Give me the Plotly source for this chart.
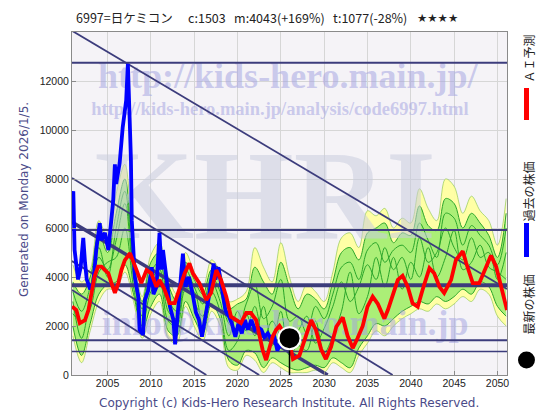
import plotly.graph_objects as go

# --- data -----------------------------------------------------------------
fan_years = list(range(2001, 2052))
fan_hi = [4500, 3800, 4300, 6300, 5600, 7400, 8600, 5000, 3200, 4900,
          5400, 4000, 3300, 5000, 4200, 3600, 4700, 4200, 3000, 3100,
          3400, 5200, 4400, 3800, 5400, 4000, 3000, 3700, 3400, 3000,
          4200, 5600, 5800, 5200, 6700, 6500, 6800, 6000, 6400, 6200,
          7600, 6800, 6300, 8000, 7700, 6600, 7300, 6700, 6300, 5300,
          7200]
fan_lo = [1600, 500, 1800, 3000, 3500, 3500, 4200, 3000, 1500, 2500,
          3000, 1500, 1300, 2800, 2000, 1400, 2600, 2000, 300, 200,
          800, 600, 100, 500, 300, 100, 100, 100, 200, 100,
          500, 300, 100, 800, 1300, 1800, 1600, 2000, 2300, 2500,
          2700, 2600, 2900, 2700, 2900, 3200, 3000, 3500, 3300, 2400,
          2000]
green_hi = [3800, 3300, 4000, 5800, 5000, 6600, 8000, 4600, 3000, 4600,
            5000, 3700, 3000, 4600, 3900, 3300, 4300, 3900, 2700, 2900,
            3100, 4400, 3800, 3300, 4600, 3600, 2700, 3300, 3100, 2700,
            3800, 5000, 5200, 4700, 5800, 6000, 6200, 5400, 5800, 5700,
            6900, 6100, 5900, 7200, 7000, 6000, 6600, 6200, 5700, 4800,
            6600]
green_lo = [2000, 800, 2100, 3300, 3700, 3800, 4500, 3300, 1800, 2800,
            3300, 1800, 1600, 3000, 2300, 1700, 2900, 2300, 600, 400,
            1000, 900, 300, 700, 500, 300, 200, 300, 400, 300,
            700, 500, 300, 1100, 1600, 2100, 2000, 2300, 2600, 2800,
            3000, 2900, 3200, 3000, 3200, 3500, 3300, 3800, 3600, 2800,
            2400]
path_a = [3000, 1500, 3200, 4800, 4300, 5500, 7000, 4000, 2400, 3800,
          4300, 2600, 2300, 4000, 3000, 2400, 3800, 3000, 1600, 2600,
          1800, 2800, 1500, 2200, 1600, 1400, 1800, 2400, 1300, 1900,
          2800, 3800, 3000, 3600, 4500, 3900, 5200, 4300, 4800, 3900,
          5600, 4600, 5000, 6000, 5200, 4700, 5600, 4800, 5000, 3900,
          5000]
path_b = [2500, 2200, 2700, 4200, 4600, 4800, 6000, 3600, 2000, 3400,
          3800, 2200, 2000, 3500, 3400, 2000, 3400, 2600, 1000, 1400,
          2500, 1600, 2800, 1200, 2600, 800, 1200, 1000, 2200, 900,
          1600, 2600, 4200, 2500, 3200, 4800, 3600, 4800, 3500, 4600,
          4000, 5200, 4000, 4800, 5900, 4300, 4600, 5300, 4400, 4200,
          3900]
path_c = [3400, 2600, 3600, 5200, 4000, 6000, 7500, 4300, 2700, 4200,
          4600, 3100, 2600, 4300, 3600, 2900, 4000, 3400, 2100, 1900,
          2900, 3700, 2300, 2800, 3900, 2200, 2400, 1700, 2800, 2300,
          3300, 4400, 4600, 3900, 5100, 5400, 4600, 5100, 5300, 5000,
          6200, 5500, 4800, 6600, 6400, 5300, 6100, 5700, 5300, 4500,
          6000]

price_years = [2000.95, 2001.05, 2001.2, 2001.4, 2001.6, 2001.9, 2002.2, 2002.4, 2002.6,
               2003.0, 2003.35, 2003.7, 2004.1, 2004.3, 2004.7, 2005.1, 2005.45, 2005.65,
               2005.85, 2006.0, 2006.4, 2006.75, 2007.15, 2007.35, 2007.55, 2007.7, 2007.8,
               2008.15, 2008.55, 2008.7, 2009.1, 2009.3, 2009.7, 2010.1, 2010.3, 2010.65,
               2011.0, 2011.2, 2011.4, 2011.8, 2012.2, 2012.6, 2012.8, 2013.1, 2013.5,
               2013.7, 2014.0, 2014.4, 2014.8, 2015.2, 2015.55, 2015.9, 2016.3, 2016.7,
               2017.25, 2017.45, 2017.8, 2018.2, 2018.6, 2019.0, 2019.35, 2019.75, 2020.1,
               2020.5, 2020.85, 2021.2, 2021.6, 2022.0, 2022.35, 2022.75, 2023.1, 2023.5,
               2023.9, 2024.2, 2024.6, 2025.0, 2025.5, 2026.0]
price_vals = [7300, 7500, 5100, 4500, 3900, 4400, 5600, 4600, 3900,
              3500, 3750, 5100, 6200, 5500, 5800, 5100, 6300, 7100,
              8600, 7800, 8650, 10100, 11200, 12700, 10500, 8800, 6300,
              4000, 3200, 1850, 1650, 3050, 3450, 4400, 3300, 3600,
              5800, 4300, 5100, 3900, 2800, 2250, 1250, 2500, 4000,
              4950, 3600, 4000, 3350, 2550, 2250, 1560, 2400, 3200,
              4550, 3900, 4400, 3450, 2650, 2400, 2100, 1560, 2100,
              1700, 2250, 1850, 2250, 1850, 1950, 1850, 1550, 1700,
              1450, 1650, 1000, 1300, 1600, 1503]

ai_years = [2000.9, 2001.4, 2001.8, 2002.4, 2002.8, 2003.15, 2003.5, 2003.9, 2004.3,
            2004.7, 2005.1, 2005.45, 2005.85, 2006.25, 2006.6, 2007.0, 2007.6, 2008.35,
            2008.9, 2009.5, 2010.05, 2010.65, 2011.0, 2011.6, 2012.15, 2012.75, 2013.3,
            2013.9, 2014.45, 2014.85, 2015.6, 2016.4, 2016.95, 2017.55, 2018.1, 2018.7,
            2019.25, 2019.85, 2020.4, 2021.0, 2021.55, 2022.15, 2022.55, 2022.9, 2023.3,
            2023.7, 2024.05, 2024.45, 2024.85, 2025.4, 2026.0, 2026.4, 2027.15, 2027.9,
            2028.5, 2029.05, 2029.65, 2030.2, 2030.8, 2031.4, 2032.15, 2032.7, 2033.3,
            2033.85, 2034.45, 2035.0, 2035.6, 2036.2, 2036.95, 2037.35, 2037.9, 2038.5,
            2039.05, 2039.65, 2040.2, 2040.8, 2041.35, 2042.15, 2042.7, 2043.3, 2043.85,
            2044.65, 2045.2, 2046.0, 2046.4, 2047.15, 2047.9, 2048.5, 2049.25, 2049.85,
            2050.4, 2051.1]
ai_vals = [2800, 2650, 2120, 2240, 2650, 3350, 4010, 4420, 4420,
           4280, 4150, 3750, 3350, 3750, 4280, 4690, 4970, 4280,
           3750, 4280, 4150, 3600, 3880, 3470, 2930, 2930, 3470,
           4150, 4560, 4150, 3750, 3060, 3350, 4280, 3880, 3200,
           2380, 2240, 2120, 2530, 2530, 2240, 1560, 1020, 610,
           1150, 1560, 1840, 2000, 1700, 1300, 650, 800, 1600,
           2240, 1840, 1050, 650, 1150, 1970, 2350, 1600, 1100,
           1500, 2000, 2790, 3200, 2900, 2300, 2650, 3200, 3880,
           4050, 3600, 2930, 2790, 3470, 4360, 4150, 3600, 3350,
           3880, 4690, 5050, 4560, 3750, 3750, 4280, 4880, 4420,
           3600, 2650]

latest_year, latest_price = 2026.0, 1503

level_vals = [12750, 5920, 3660, 1420, 960]
level_widths = [2, 2, 4, 2, 1.5]

trend_start_year = 2000.9
trend_start_vals = [14050, 8040, 6240, 4650, 3470]
trend_end_years = [2051.1, 2037.9, 2030.4, 2022.5, 2016.4]
trend_end_vals = [3510, 0, 0, 0, 0]
trend_widths = [1.8, 1.8, 3.5, 1.8, 1.8]

x_range = [2000.9, 2051.1]
y_range = [0, 14000]
y_ticks = [0, 2000, 4000, 6000, 8000, 10000, 12000]

NAVY = "#3c3c7c"
GREEN_LINE = "#2aa52a"

fig = go.Figure()

# yellow envelope
fig.add_trace(go.Scatter(x=fan_years, y=fan_lo, mode="lines", line=dict(color="rgba(120,190,60,0.7)", width=0.8, shape="spline"),
                         hoverinfo="skip"))
fig.add_trace(go.Scatter(x=fan_years, y=fan_hi, mode="lines", fill="tonexty", fillcolor="rgba(255,255,160,0.95)",
                         line=dict(color="rgba(120,190,60,0.7)", width=0.8, shape="spline"), hoverinfo="skip"))
# green band
fig.add_trace(go.Scatter(x=fan_years, y=green_lo, mode="lines", line=dict(color=GREEN_LINE, width=1, shape="spline"),
                         hoverinfo="skip"))
fig.add_trace(go.Scatter(x=fan_years, y=green_hi, mode="lines", fill="tonexty", fillcolor="rgba(135,232,100,0.7)",
                         line=dict(color=GREEN_LINE, width=1, shape="spline"), hoverinfo="skip"))
for p in (path_a, path_b, path_c):
    fig.add_trace(go.Scatter(x=fan_years, y=p, mode="lines", line=dict(color=GREEN_LINE, width=1, shape="spline"),
                             hoverinfo="skip"))

# watermarks
wm = [("http://kids-hero.main.jp/", 2025.8, 12100, 36, "rgba(165,165,225,0.55)"),
      ("http://kids-hero.main.jp/analysis/code6997.html", 2024.9, 10800, 18.5, "rgba(165,165,225,0.55)"),
      ("KHRI", 2023.2, 6900, 128, "rgba(200,204,222,0.55)"),
      ("info@kids-hero.main.jp", 2025.5, 2000, 36, "rgba(165,165,225,0.55)")]
for txt, wx, wy, sz, col in wm:
    fig.add_trace(go.Scatter(x=[wx], y=[wy], mode="text", text=[txt],
                             textfont=dict(family="Liberation Serif", size=sz, color=col, weight="bold"),
                             hoverinfo="skip"))

# support / resistance lines
for v, w in zip(level_vals, level_widths):
    fig.add_trace(go.Scatter(x=x_range, y=[v, v], mode="lines", line=dict(color=NAVY, width=w), hoverinfo="skip"))
for v0, x1, v1, w in zip(trend_start_vals, trend_end_years, trend_end_vals, trend_widths):
    fig.add_trace(go.Scatter(x=[trend_start_year, x1], y=[v0, v1], mode="lines",
                             line=dict(color=NAVY, width=w), hoverinfo="skip"))

fig.add_trace(go.Scatter(x=price_years, y=price_vals, mode="lines", line=dict(color="#0000ff", width=3.8)))
fig.add_trace(go.Scatter(x=ai_years, y=ai_vals, mode="lines", line=dict(color="#ff0000", width=3.8)))
fig.add_trace(go.Scatter(x=[latest_year, latest_year], y=[0, latest_price], mode="lines",
                         line=dict(color="#000000", width=1.5), hoverinfo="skip"))
fig.add_trace(go.Scatter(x=[latest_year], y=[latest_price], mode="markers",
                         marker=dict(size=22, color="#000000", line=dict(color="#ffffff", width=2))))

# plot area: x 72..507.5 px, y 32..375 px
def px_x(p):
    return (p - 72) / 435.5


def px_y(p):
    return (375 - p) / 343


txt_col = "#4a4a88"
ann = [
    dict(text="6997=日ケミコン\u3000\u00a0c:1503\u00a0\u00a0\u00a0m:4043(+169%)\u00a0\u00a0\u00a0t:1077(-28%)",
         x=px_x(74), y=px_y(18), xanchor="left", textangle=0,
         font=dict(family="Noto Sans CJK JP", size=12.5, color="#222222")),
    dict(text="★★★★", x=px_x(415), y=px_y(18), xanchor="left", textangle=0,
         font=dict(family="DejaVu Sans", size=11.5, color="#222222")),
    dict(text="Generated on Monday 2026/1/5.", x=px_x(24), y=px_y(200), xanchor="center", textangle=-90,
         font=dict(family="DejaVu Sans", size=12, color=txt_col)),
    dict(text="Copyright (c) Kids-Hero Research Institute. All Rights Reserved.", x=px_x(289), y=px_y(403),
         xanchor="center", textangle=0, font=dict(family="DejaVu Sans", size=12, color=txt_col)),
    dict(text="ＡＩ予測", x=px_x(529), y=px_y(58), xanchor="center", textangle=-90,
         font=dict(family="Noto Sans CJK JP", size=12, color="#222222")),
    dict(text="過去の株価", x=px_x(529), y=px_y(191), xanchor="center", textangle=-90,
         font=dict(family="Noto Sans CJK JP", size=12, color="#222222")),
    dict(text="最新の株価", x=px_x(529), y=px_y(304), xanchor="center", textangle=-90,
         font=dict(family="Noto Sans CJK JP", size=12, color="#222222")),
]
for a in ann:
    fig.add_annotation(xref="paper", yref="paper", yanchor="middle", showarrow=False, **a)

fig.add_shape(type="line", xref="paper", yref="paper", x0=px_x(527), x1=px_x(527), y0=px_y(88), y1=px_y(120),
              line=dict(color="#ff0000", width=5))
fig.add_shape(type="line", xref="paper", yref="paper", x0=px_x(527), x1=px_x(527), y0=px_y(223), y1=px_y(257),
              line=dict(color="#0000ff", width=5))
fig.add_shape(type="circle", xref="paper", yref="paper", x0=px_x(518.5), x1=px_x(535.5), y0=px_y(351.5),
              y1=px_y(368.5), fillcolor="#000000", line=dict(color="#000000", width=0))

axis_common = dict(showgrid=True, gridcolor="#d6d6d6", gridwidth=1, zeroline=False, showline=True,
                   linecolor="#8a8a8a", mirror=True, ticks="inside", ticklen=4, tickcolor="#8a8a8a",
                   tickfont=dict(family="Liberation Sans", size=10.5, color="#222222"))
fig.update_layout(
    width=560, height=420, showlegend=False,
    margin=dict(l=72, r=52.5, t=32, b=45),
    paper_bgcolor="white", plot_bgcolor="#f5f3f7",
    xaxis=dict(range=x_range, tick0=2005, dtick=5, ticklabelstandoff=-2, **axis_common),
    yaxis=dict(range=y_range, tickvals=y_ticks, tickformat="d", **axis_common),
)

fig.write_html("out.html", config={"displayModeBar": False},
               post_script="document.body.style.margin='0px';")
